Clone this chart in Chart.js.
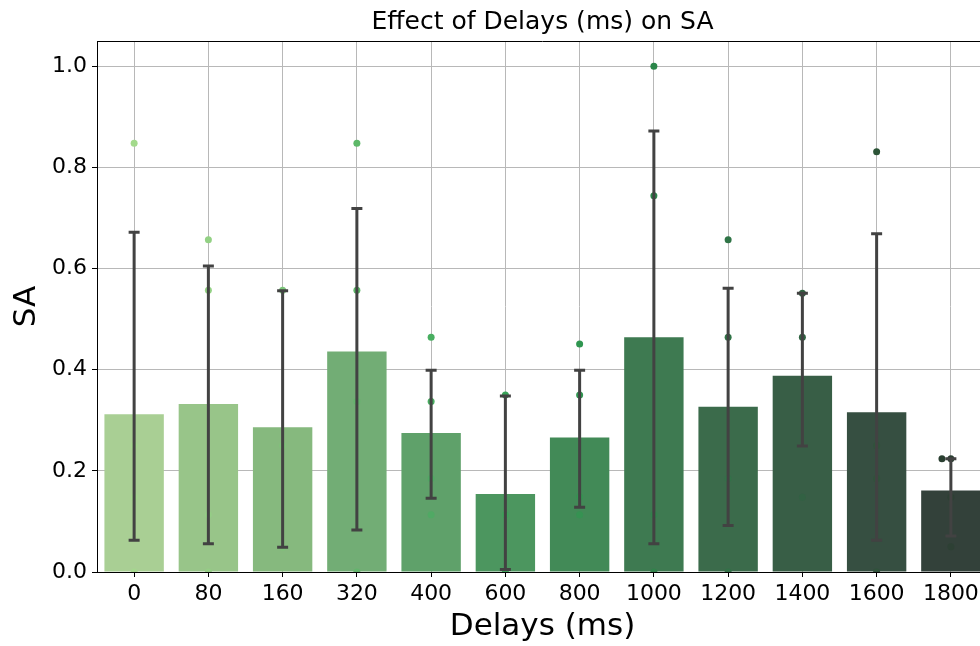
<!DOCTYPE html>
<html lang="en">
<head>
    <meta charset="UTF-8">
    <title>Effect of Delays (ms) on SA</title>
    <script src="https://cdn.jsdelivr.net/npm/chart.js"></script>
    <style>
        html, body {
            margin: 0;
            padding: 0;
            background: #fff;
            overflow: hidden;
        }
        canvas {
            display: block;
        }
    </style>
</head>
<body>
    <canvas id="saChart" width="1000" height="646"></canvas>

    <script>
        // Delay conditions and SA results
        const delays = ['0', '80', '160', '320', '400', '600', '800', '1000', '1200', '1400', '1600', '1800'];
        const saMean = [0.312, 0.332, 0.286, 0.436, 0.275, 0.154, 0.266, 0.464, 0.327, 0.388, 0.316, 0.161];
        const ciLow  = [0.063, 0.056, 0.049, 0.083, 0.146, 0.005, 0.128, 0.056, 0.092, 0.249, 0.063, 0.071];
        const ciHigh = [0.672, 0.605, 0.556, 0.719, 0.399, 0.348, 0.399, 0.872, 0.561, 0.551, 0.669, 0.224];
        // individual runs per delay
        const saRuns = [
            [0.848, 0.250, 0.148, 0.0],
            [0.657, 0.557, 0.113, 0.0],
            [0.557, 0.250, 0.049],
            [0.848, 0.557, 0.337, 0.0],
            [0.464, 0.337, 0.185, 0.113],
            [0.350, 0.113, 0.0],
            [0.451, 0.350, 0.149, 0.113],
            [1.0, 0.744, 0.113, 0.0],
            [0.657, 0.464, 0.185, 0.0],
            [0.551, 0.464, 0.148],
            [0.831, 0.250, 0.185, 0.0],
            [0.224, 0.224, 0.148, 0.050]
        ];
        const yTicks = [0, 0.2, 0.4, 0.6, 0.8, 1.0];

        const barColors = ['#a9cf94', '#98c589', '#86b97e', '#72ad75', '#5fa16a', '#4c965f',
                           '#428a57', '#3e7a51', '#3b6b4b', '#385e46', '#364f41', '#33413a'];
        const dotColors = ['#a3da8c', '#93d184', '#7cc57a', '#5db868', '#48ae60', '#38a458',
                           '#2f9650', '#2b874a', '#2f7446', '#2e6341', '#2c5437', '#2a3f31'];
        const FONT = 'DejaVu Sans';

        // blend two hex colours, t = weight of b
        function mix(a, b, t) {
            const pa = parseInt(a.slice(1), 16), pb = parseInt(b.slice(1), 16);
            const ch = [16, 8, 0].map(s => {
                const ca = (pa >> s) & 255, cb = (pb >> s) & 255;
                return Math.round(ca + (cb - ca) * t);
            });
            return `rgb(${ch[0]}, ${ch[1]}, ${ch[2]})`;
        }

        // strip points, nudging repeated values sideways like a swarm;
        // points inside a bar only show faintly through it
        const dots = [];
        const dotFill = [];
        saRuns.forEach((runs, i) => {
            const seen = {};
            runs.forEach(v => {
                const k = seen[v] || 0;
                seen[v] = k + 1;
                dots.push({ x: i - k * 0.12, y: v });
                dotFill.push(v < saMean[i] ? mix(barColors[i], dotColors[i], 0.65) : dotColors[i]);
            });
        });

        // error bars and top spine, drawn over the grid
        const errorBars = {
            id: 'errorBars',
            afterDraw(chart) {
                const { ctx, chartArea, scales: { x, y } } = chart;
                ctx.save();
                ctx.strokeStyle = '#424242';
                ctx.lineWidth = 3;
                ctx.lineCap = 'butt';
                delays.forEach((d, i) => {
                    const px = x.getPixelForValue(i);
                    const lo = y.getPixelForValue(ciLow[i]);
                    const hi = y.getPixelForValue(ciHigh[i]);
                    ctx.beginPath();
                    ctx.moveTo(px, lo);
                    ctx.lineTo(px, hi);
                    ctx.moveTo(px - 5.5, lo);
                    ctx.lineTo(px + 5.5, lo);
                    ctx.moveTo(px - 5.5, hi);
                    ctx.lineTo(px + 5.5, hi);
                    ctx.stroke();
                });
                ctx.strokeStyle = '#000';
                ctx.lineWidth = 1;
                ctx.beginPath();
                ctx.moveTo(chartArea.left, chartArea.top + 0.5);
                ctx.lineTo(chartArea.right, chartArea.top + 0.5);
                ctx.stroke();
                ctx.restore();
            }
        };

        const ctx = document.getElementById('saChart').getContext('2d');
        new Chart(ctx, {
            type: 'bar',
            data: {
                datasets: [{
                    type: 'bar',
                    data: saMean.map((v, i) => ({ x: i, y: v })),
                    backgroundColor: barColors,
                    borderWidth: 0,
                    barPercentage: 1.0,
                    categoryPercentage: 0.8,
                    order: 2
                }, {
                    type: 'scatter',
                    data: dots,
                    pointBackgroundColor: dotFill,
                    pointBorderWidth: 0,
                    pointRadius: 3.5,
                    order: 1
                }]
            },
            options: {
                responsive: false,
                animation: false,
                devicePixelRatio: 1,
                layout: { padding: { left: 0, right: 12, top: 0, bottom: 0 } },
                plugins: {
                    legend: { display: false },
                    tooltip: { enabled: false },
                    title: {
                        display: true,
                        fullSize: false,
                        text: 'Effect of Delays (ms) on SA',
                        color: '#000',
                        font: { family: FONT, size: 25, weight: 'normal' },
                        padding: { top: 7, bottom: 4 }
                    }
                },
                scales: {
                    x: {
                        type: 'linear',
                        min: -0.5,
                        max: 11.5,
                        offset: false,
                        z: 1,
                        afterBuildTicks: s => {
                            s.ticks = delays.map((d, i) => ({ value: i }));
                        },
                        afterFit: s => { s.height = 74; },
                        ticks: {
                            autoSkip: false,
                            maxRotation: 0,
                            color: '#000',
                            padding: 4,
                            font: { family: FONT, size: 22 },
                            callback: v => delays[v]
                        },
                        grid: {
                            offset: false,
                            color: '#b8b8b8',
                            lineWidth: 1,
                            tickColor: '#000',
                            tickLength: 5
                        },
                        border: { color: '#000', width: 1 },
                        title: {
                            display: true,
                            text: 'Delays (ms)',
                            color: '#000',
                            font: { family: FONT, size: 31 },
                            padding: { top: 0, bottom: 0 }
                        }
                    },
                    y: {
                        min: 0,
                        max: 1.05,
                        z: 1,
                        afterBuildTicks: s => {
                            s.ticks = yTicks.map(v => ({ value: v }));
                        },
                        afterFit: s => { s.width = 97; },
                        ticks: {
                            color: '#000',
                            padding: 5,
                            font: { family: FONT, size: 22 },
                            callback: v => v.toFixed(1)
                        },
                        grid: {
                            color: '#b8b8b8',
                            lineWidth: 1,
                            tickColor: '#000',
                            tickLength: 5
                        },
                        border: { color: '#000', width: 1 },
                        title: {
                            display: true,
                            text: 'SA',
                            color: '#000',
                            font: { family: FONT, size: 31 },
                            padding: { top: 8, bottom: 0 }
                        }
                    }
                }
            },
            plugins: [errorBars]
        });
    </script>
</body>
</html>
